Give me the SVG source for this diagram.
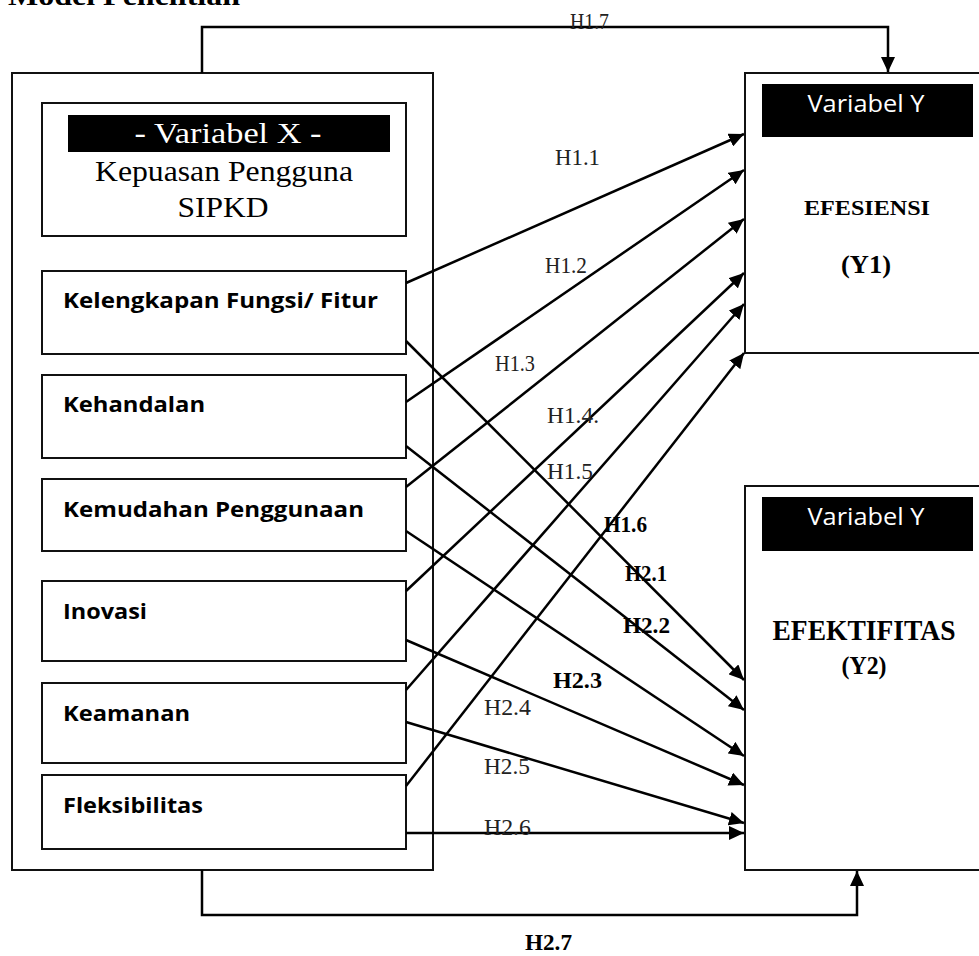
<svg xmlns="http://www.w3.org/2000/svg" width="979" height="956" viewBox="0 0 979 956">
<defs>
<marker id="ah" markerUnits="userSpaceOnUse" markerWidth="16" markerHeight="14" refX="15" refY="7" orient="auto">
<path d="M0,0 L15,7 L0,14 z" fill="#000"/>
</marker>
<style>
.box{fill:#fff;stroke:#111;stroke-width:2}
.bar{fill:#000}
.serif{font-family:"Liberation Serif","Times New Roman",serif}
.sans{font-family:"Open Sans","Liberation Sans",sans-serif}
.item{font-family:"Open Sans","Liberation Sans",sans-serif;font-weight:700;font-size:22px;fill:#000}
.lbl{font-family:"Liberation Serif",serif;font-size:24px;fill:#222}
.lblb{font-family:"Liberation Serif",serif;font-size:24px;font-weight:700;fill:#000}
.ln{fill:none;stroke:#000;stroke-width:2.5}
.arr{fill:none;stroke:#000;stroke-width:2.5;marker-end:url(#ah)}
</style>
</defs>
<rect width="979" height="956" fill="#fff"/>
<text class="serif" x="8" y="5" font-size="28" font-weight="700" textLength="232" lengthAdjust="spacingAndGlyphs">Model Penelitian</text>

<g id="variabel-x">
<rect class="box" x="12" y="73" width="421" height="797"/>
<rect class="box" x="42" y="103" width="364" height="133"/>
<rect class="bar" x="68" y="115" width="322" height="37"/>
<text class="serif" x="228" y="143" font-size="30" fill="#fff" text-anchor="middle" textLength="187" lengthAdjust="spacingAndGlyphs">- Variabel X -</text>
<text class="serif" x="224" y="181" font-size="30" text-anchor="middle" textLength="258" lengthAdjust="spacingAndGlyphs">Kepuasan Pengguna</text>
<text class="serif" x="223" y="217" font-size="30" text-anchor="middle" textLength="91" lengthAdjust="spacingAndGlyphs">SIPKD</text>
</g>

<g id="kelengkapan">
<rect class="box" x="42" y="271" width="364" height="83"/>
<text class="item" x="63" y="308" textLength="315" lengthAdjust="spacingAndGlyphs">Kelengkapan Fungsi/ Fitur</text>
</g>
<g id="kehandalan">
<rect class="box" x="42" y="375" width="364" height="83"/>
<text class="item" x="63" y="412" textLength="142" lengthAdjust="spacingAndGlyphs">Kehandalan</text>
</g>
<g id="kemudahan">
<rect class="box" x="42" y="479" width="364" height="72"/>
<text class="item" x="63" y="517" textLength="301" lengthAdjust="spacingAndGlyphs">Kemudahan Penggunaan</text>
</g>
<g id="inovasi">
<rect class="box" x="42" y="581" width="364" height="80"/>
<text class="item" x="63" y="619" textLength="84" lengthAdjust="spacingAndGlyphs">Inovasi</text>
</g>
<g id="keamanan">
<rect class="box" x="42" y="683" width="364" height="80"/>
<text class="item" x="63" y="721" textLength="127" lengthAdjust="spacingAndGlyphs">Keamanan</text>
</g>
<g id="fleksibilitas">
<rect class="box" x="42" y="775" width="364" height="74"/>
<text class="item" x="63" y="813" textLength="140" lengthAdjust="spacingAndGlyphs">Fleksibilitas</text>
</g>

<g id="y1">
<rect class="box" x="745" y="73" width="250" height="280"/>
<rect class="bar" x="762" y="84" width="211" height="53"/>
<text class="sans" x="866" y="112" font-size="24" fill="#fff" text-anchor="middle" textLength="117" lengthAdjust="spacingAndGlyphs">Variabel Y</text>
<text class="serif" x="867" y="215" font-size="22" font-weight="700" text-anchor="middle" textLength="126" lengthAdjust="spacingAndGlyphs">EFESIENSI</text>
<text class="serif" x="866" y="273" font-size="25" font-weight="700" text-anchor="middle" textLength="50" lengthAdjust="spacingAndGlyphs">(Y1)</text>
</g>

<g id="y2">
<rect class="box" x="745" y="486" width="250" height="384"/>
<rect class="bar" x="762" y="497" width="211" height="54"/>
<text class="sans" x="866" y="525" font-size="24" fill="#fff" text-anchor="middle" textLength="117" lengthAdjust="spacingAndGlyphs">Variabel Y</text>
<text class="serif" x="864" y="640" font-size="29" font-weight="700" text-anchor="middle" textLength="183" lengthAdjust="spacingAndGlyphs">EFEKTIFITAS</text>
<text class="serif" x="864" y="674" font-size="25" font-weight="700" text-anchor="middle" textLength="45" lengthAdjust="spacingAndGlyphs">(Y2)</text>
</g>

<g id="connectors">
<polyline class="arr" points="202,73 202,27 888,27 888,72"/>
<polyline class="arr" points="202,870 202,915 857,915 857,871"/>
<line class="arr" x1="406" y1="283" x2="744" y2="134"/>
<line class="arr" x1="406" y1="402" x2="744" y2="170"/>
<line class="arr" x1="406" y1="487" x2="744" y2="219"/>
<line class="arr" x1="406" y1="591" x2="744" y2="273"/>
<line class="arr" x1="406" y1="690" x2="744" y2="304"/>
<line class="arr" x1="406" y1="786" x2="744" y2="353"/>
<line class="arr" x1="406" y1="341" x2="744" y2="680"/>
<line class="arr" x1="406" y1="446" x2="744" y2="710"/>
<line class="arr" x1="406" y1="531" x2="744" y2="756"/>
<line class="arr" x1="406" y1="640" x2="744" y2="785"/>
<line class="arr" x1="406" y1="722" x2="744" y2="823"/>
<line class="arr" x1="406" y1="833" x2="744" y2="833"/>
</g>

<g id="labels">
<text class="lbl" x="570" y="29" textLength="39" lengthAdjust="spacingAndGlyphs">H1.7</text>
<text class="lbl" x="555" y="165" textLength="45" lengthAdjust="spacingAndGlyphs">H1.1</text>
<text class="lbl" x="545" y="273" textLength="42" lengthAdjust="spacingAndGlyphs">H1.2</text>
<text class="lbl" x="495" y="371" textLength="40" lengthAdjust="spacingAndGlyphs">H1.3</text>
<text class="lbl" x="547" y="423" textLength="52" lengthAdjust="spacingAndGlyphs">H1.4.</text>
<text class="lbl" x="547" y="479" textLength="46" lengthAdjust="spacingAndGlyphs">H1.5</text>
<text class="lblb" x="604" y="532" textLength="43" lengthAdjust="spacingAndGlyphs">H1.6</text>
<text class="lblb" x="625" y="581" textLength="42" lengthAdjust="spacingAndGlyphs">H2.1</text>
<text class="lblb" x="623" y="633" textLength="47" lengthAdjust="spacingAndGlyphs">H2.2</text>
<text class="lblb" x="553" y="688" textLength="49" lengthAdjust="spacingAndGlyphs">H2.3</text>
<text class="lbl" x="484" y="715" textLength="47" lengthAdjust="spacingAndGlyphs">H2.4</text>
<text class="lbl" x="484" y="774" textLength="46" lengthAdjust="spacingAndGlyphs">H2.5</text>
<text class="lbl" x="484" y="835" textLength="47" lengthAdjust="spacingAndGlyphs">H2.6</text>
<text class="lblb" x="525" y="950" font-size="22" textLength="47" lengthAdjust="spacingAndGlyphs">H2.7</text>
</g>
</svg>
